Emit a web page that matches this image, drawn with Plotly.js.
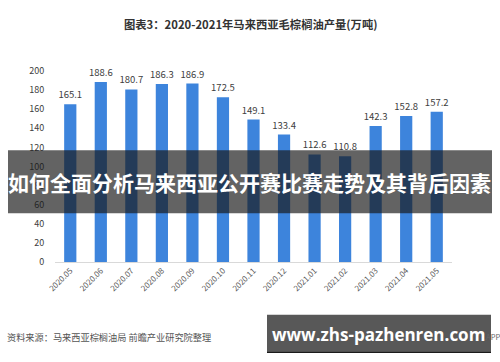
<!DOCTYPE html>
<html>
<head>
<meta charset="utf-8">
<script src="https://cdn.plot.ly/plotly-3.0.1.min.js"></script>
<style>
html,body{margin:0;padding:0;background:#fff;}
#chart{width:500px;height:362px;}
</style>
</head>
<body>
<div id="chart"></div>
<script>
const categories = ["2020.05","2020.06","2020.07","2020.08","2020.09","2020.10","2020.11","2020.12","2021.01","2021.02","2021.03","2021.04","2021.05"];
const production = [165.1,188.6,180.7,186.3,186.9,172.5,149.1,133.4,112.6,110.8,142.3,152.8,157.2];
const yTicks = [0,20,40,60,80,100,120,140,160,180,200];
const chartTitle = "图表3：2020-2021年马来西亚毛棕榈油产量(万吨)";
const bannerText = "如何全面分析马来西亚公开赛比赛走势及其背后因素";
const sourceText = "资料来源：马来西亚棕榈油局 前瞻产业研究院整理";
const siteText = "www.zhs-pazhenren.com";

// plot area in pixels
const L = 55, R = 452, T = 70.5, B = 262;
const px = x => (x - L) / (R - L);
const py = y => (B - y) / (B - T);

const font = "'Noto Sans CJK SC', 'Noto Sans', sans-serif";

const trace = {
  type: 'bar',
  x: categories,
  y: production,
  marker: {color: '#3d84dc'},
  text: production.map(v => v.toFixed(1)),
  textposition: 'outside',
  constraintext: 'none',
  textfont: {size: 9.5, color: '#404040', family: font},
  cliponaxis: false,
  hoverinfo: 'none'
};

const layout = {
  width: 500, height: 362,
  margin: {l: L, r: 500 - R, t: T, b: 362 - B},
  paper_bgcolor: '#fff', plot_bgcolor: '#fff',
  showlegend: false,
  bargap: 0.6,
  font: {family: font},
  xaxis: {
    type: 'category',
    tickangle: -45,
    tickfont: {size: 8, color: '#595959', family: font},
    showline: true, linecolor: '#d9d9d9', linewidth: 1,
    ticks: '', showgrid: false, zeroline: false, fixedrange: true
  },
  yaxis: {
    range: [0, 200],
    tickvals: yTicks,
    tickfont: {size: 9, color: '#404040', family: font},
    ticks: 'outside', ticklen: 8, tickcolor: 'rgba(0,0,0,0)',
    showgrid: false, zeroline: false, showline: false, fixedrange: true
  },
  shapes: [
    {type: 'rect', xref: 'paper', yref: 'paper', layer: 'above',
     x0: px(8), x1: px(492), y0: py(213), y1: py(150),
     fillcolor: 'rgba(25,25,25,0.68)', line: {width: 0}},
    {type: 'rect', xref: 'paper', yref: 'paper', layer: 'above',
     x0: px(267), x1: px(491), y0: py(352), y1: py(315),
     fillcolor: '#585858', line: {width: 0}},
    {type: 'line', xref: 'paper', yref: 'paper', layer: 'above',
     x0: px(267), x1: px(491), y0: py(352.5), y1: py(352.5),
     line: {color: '#1a1a1a', width: 1.5}}
  ],
  annotations: [
    {text: '<b>' + chartTitle + '</b>', xref: 'paper', yref: 'paper',
     x: px(250), y: py(23), xanchor: 'center', yanchor: 'middle', showarrow: false,
     font: {size: 11.3, color: '#333333', family: font}},
    {text: '<b>' + bannerText + '</b>', xref: 'paper', yref: 'paper',
     x: px(249), y: py(182), xanchor: 'center', yanchor: 'middle', showarrow: false,
     font: {size: 21, color: '#ffffff', family: font}},
    {text: sourceText, xref: 'paper', yref: 'paper',
     x: px(5), y: py(337), xanchor: 'left', yanchor: 'middle', showarrow: false,
     font: {size: 9.2, color: '#555555', family: font}},
    {text: '.APP', xref: 'paper', yref: 'paper',
     x: px(482), y: py(337), xanchor: 'left', yanchor: 'middle', showarrow: false,
     font: {size: 7.5, color: '#666666', family: font}},
    {text: '<b>' + siteText + '</b>', xref: 'paper', yref: 'paper',
     x: px(378), y: py(335), xanchor: 'center', yanchor: 'middle', showarrow: false,
     font: {size: 17, color: '#ffffff', family: "'Open Sans', 'Noto Sans', sans-serif"}}
  ]
};

Plotly.newPlot('chart', [trace], layout, {staticPlot: true, displayModeBar: false});
</script>
</body>
</html>
